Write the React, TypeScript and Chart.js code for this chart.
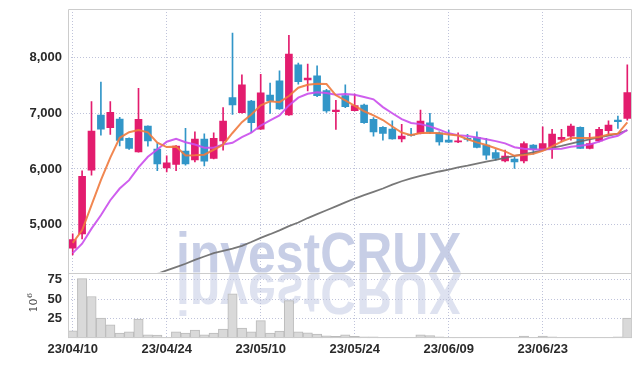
import React, { useEffect, useRef } from 'react';
import { Chart, registerables } from 'chart.js';

Chart.register(...registerables);

const dates = [
  '23/04/10', '23/04/11', '23/04/12', '23/04/13', '23/04/14', '23/04/17', '23/04/18', '23/04/19', '23/04/20', '23/04/21',
  '23/04/24', '23/04/25', '23/04/26', '23/04/27', '23/04/28', '23/05/02', '23/05/03', '23/05/04', '23/05/08', '23/05/09',
  '23/05/10', '23/05/11', '23/05/12', '23/05/15', '23/05/16', '23/05/17', '23/05/18', '23/05/19', '23/05/22', '23/05/23',
  '23/05/24', '23/05/25', '23/05/26', '23/05/30', '23/05/31', '23/06/01', '23/06/02', '23/06/05', '23/06/07', '23/06/08',
  '23/06/09', '23/06/12', '23/06/13', '23/06/14', '23/06/15', '23/06/16', '23/06/19', '23/06/20', '23/06/21', '23/06/22',
  '23/06/23', '23/06/26', '23/06/27', '23/06/28', '23/06/29', '23/06/30', '23/07/03', '23/07/04', '23/07/05', '23/07/06',
];

const tickDates = ['23/04/10', '23/04/24', '23/05/10', '23/05/24', '23/06/09', '23/06/23'];

const opens = [
  4578, 4837, 5977, 6968, 6739, 6896, 6548, 6307, 6770, 6356,
  6019, 6080, 6320, 6163, 6536, 6188, 6505, 7280, 7010, 7220,
  6716, 7328, 7580, 6968, 7868, 7598, 7670, 7406, 7028, 7316,
  7046, 7148, 6890, 6746, 6716, 6541, 6620, 6638, 6829, 6649,
  6518, 6487, 6548, 6566, 6427, 6293, 6145, 6176, 6145, 6427,
  6350, 6397, 6530, 6590, 6746, 6368, 6505, 6686, 6878, 6908,
];
const closes = [
  4735, 5869, 6680, 6716, 7017, 6512, 6368, 6890, 6505, 6091,
  6109, 6409, 6091, 6536, 6140, 6548, 6860, 7148, 7508, 6829,
  7364, 7220, 7076, 8061, 7568, 7629, 7316, 7040, 7058, 7118,
  7136, 6829, 6667, 6638, 6541, 6590, 6602, 6860, 6667, 6487,
  6482, 6505, 6530, 6386, 6248, 6188, 6230, 6127, 6458, 6350,
  6458, 6626, 6566, 6770, 6368, 6458, 6710, 6788, 6847, 7370,
];
const highs = [
  4837, 5965, 7208, 7557, 7208, 6926, 6560, 7449, 6775, 6458,
  6235, 6420, 6728, 6667, 6631, 6650, 7100, 8440, 7688, 7230,
  7700, 7539, 7760, 8396, 7899, 7881, 7850, 7431, 7232, 7508,
  7346, 7166, 6920, 6760, 6865, 6800, 6728, 7058, 6999, 6667,
  6698, 6649, 6620, 6667, 6548, 6350, 6338, 6230, 6487, 6440,
  6758, 6710, 6710, 6806, 6758, 6638, 6746, 6865, 6950, 7868,
];
const lows = [
  4459, 4747, 5887, 6608, 6620, 6415, 6350, 6300, 6409, 5972,
  5947, 5972, 6068, 6127, 6055, 6180, 6338, 6981, 7000, 6656,
  6710, 6999, 7070, 6960, 7521, 7400, 7298, 7017, 6710, 7100,
  7040, 6818, 6590, 6518, 6535, 6487, 6590, 6630, 6638, 6427,
  6476, 6470, 6500, 6380, 6170, 6158, 6127, 6008, 6109, 6266,
  6340, 6188, 6487, 6518, 6368, 6360, 6487, 6608, 6728, 6878,
];

const ma5 = [
  4675, 4900, 5350, 5800, 6203, 6559, 6659, 6701, 6658, 6473,
  6393, 6401, 6241, 6247, 6257, 6345, 6435, 6646, 6841, 6979,
  7142, 7214, 7199, 7310, 7458, 7511, 7530, 7523, 7322, 7232,
  7134, 7036, 6962, 6878, 6762, 6653, 6608, 6646, 6652, 6641,
  6620, 6600, 6534, 6478, 6430, 6371, 6316, 6236, 6250, 6271,
  6325, 6404, 6492, 6554, 6558, 6558, 6574, 6619, 6634, 6835,
];
const ma10 = [
  4490, 4660, 4930, 5170, 5440, 5650, 5800, 6030, 6220, 6350,
  6490, 6540, 6480, 6440, 6380, 6380, 6440, 6470, 6570, 6650,
  6780, 6870, 6960, 7140, 7280, 7350, 7375, 7365, 7330, 7345,
  7330, 7290, 7250, 7110, 7000, 6895, 6825, 6805, 6765, 6705,
  6640, 6605, 6590, 6565, 6535, 6500, 6460, 6390, 6365, 6350,
  6350, 6360, 6365, 6400, 6415, 6440, 6490, 6555, 6595, 6700,
];
const ma60 = [
  null, null, null, null, null, null, null, null, null, 4120,
  4180, 4240, 4300, 4370, 4430, 4490, 4530, 4570, 4620, 4690,
  4765, 4830, 4900, 4975, 5040, 5120, 5190, 5260, 5330, 5400,
  5470, 5530, 5590, 5650, 5720, 5780, 5830, 5875, 5915, 5955,
  5990, 6030, 6060, 6095, 6130, 6165, 6200, 6235, 6265, 6300,
  6340, 6380, 6415, 6455, 6495, 6530, 6565, 6600, 6635, 6695,
];

const volumes = [
  9.7, 76.3, 53.5, 26, 17.4, 6.7, 8.4, 24.7, 4.5, 4.1,
  1.5, 8.4, 6.7, 10.5, 4.5, 6.7, 11.8, 57, 13.1, 8.4,
  22.6, 6.7, 9.2, 48.3, 8.4, 7.1, 5.4, 3.2, 2.5, 4.5,
  2.5, 2, 2, 1.5, 1.5, 1.5, 1.2, 4.5, 3.5, 2,
  1.5, 1.5, 1.2, 1.2, 1, 1, 1, 1, 3, 1.2,
  3, 2, 1.5, 1.5, 1.5, 1.2, 1.2, 1.2, 2, 26,
];

const priceTicks = [5000, 6000, 7000, 8000];
const volumeTicks = [25, 50, 75];

const UP = '#e31c6e';
const DOWN = '#3296c8';
const GRID = '#bfc3da';
const FRAME = '#cccccc';
const FONT = { family: "'Liberation Sans', Arial, sans-serif", size: 13, weight: 'bold' };
const TICK_COLOR = '#2a2a2a';

const watermarkPlugin = {
  id: 'watermark',
  beforeDraw(chart: any) {
    const { ctx, chartArea } = chart;
    const ys = chart.scales.y;
    const ys2 = chart.scales.y2;
    const base = ys.bottom;
    const x0 = 176;
    ctx.save();
    ctx.font = "bold 58px 'Liberation Sans', Arial, sans-serif";
    ctx.textBaseline = 'alphabetic';
    ctx.textAlign = 'left';
    ctx.save();
    ctx.beginPath();
    ctx.rect(chartArea.left, ys.top, chartArea.right - chartArea.left, ys.bottom - ys.top);
    ctx.clip();
    ctx.translate(x0, base);
    ctx.scale(0.86, 1);
    ctx.fillStyle = 'rgba(185,194,224,0.8)';
    ctx.fillText('investCRUX', 0, 0);
    ctx.restore();
    ctx.save();
    ctx.beginPath();
    ctx.rect(chartArea.left, ys2.top, chartArea.right - chartArea.left, ys2.bottom - ys2.top);
    ctx.clip();
    ctx.translate(x0, base + 1);
    ctx.scale(0.86, -1);
    ctx.fillStyle = 'rgba(200,207,230,0.6)';
    ctx.fillText('investCRUX', 0, 0);
    ctx.restore();
    ctx.restore();
  },
};

const clipPlugin = {
  id: 'clipPanes',
  beforeDatasetDraw(chart: any, args: any) {
    const ds = chart.data.datasets[args.index];
    const sc = chart.scales[ds.yAxisID === 'y2' ? 'y2' : 'y'];
    const { ctx, chartArea } = chart;
    ctx.save();
    ctx.beginPath();
    ctx.rect(chartArea.left, sc.top, chartArea.right - chartArea.left, sc.bottom - sc.top);
    ctx.clip();
  },
  afterDatasetDraw(chart: any) {
    chart.ctx.restore();
  },
};

const framePlugin = {
  id: 'frame',
  afterDatasetsDraw(chart: any) {
    const { ctx, chartArea } = chart;
    const ys = chart.scales.y;
    const ys2 = chart.scales.y2;
    ctx.save();
    ctx.strokeStyle = FRAME;
    ctx.lineWidth = 1;
    const l = Math.round(chartArea.left) + 0.5;
    const r = Math.round(chartArea.right) - 0.5;
    const t = Math.round(ys.top) + 0.5;
    const m = Math.round(ys.bottom) + 0.5;
    const b = Math.round(ys2.bottom) - 0.5;
    ctx.beginPath();
    ctx.moveTo(l, t); ctx.lineTo(r, t);
    ctx.moveTo(l, m); ctx.lineTo(r, m);
    ctx.moveTo(l, b); ctx.lineTo(r, b);
    ctx.moveTo(l, t); ctx.lineTo(l, b);
    ctx.moveTo(r, t); ctx.lineTo(r, b);
    ctx.stroke();
    const cy = (ys2.top + ys2.bottom) / 2;
    ctx.translate(37, cy + 7);
    ctx.rotate(-Math.PI / 2);
    ctx.fillStyle = '#333';
    ctx.textBaseline = 'alphabetic';
    ctx.textAlign = 'left';
    ctx.font = "11px 'DejaVu Serif', serif";
    ctx.fillText('10', 0, 0);
    const w = ctx.measureText('10').width;
    ctx.font = "8px 'DejaVu Serif', serif";
    ctx.fillText('6', w + 0.5, -5);
    ctx.restore();
  },
};

const fitY = (s: any) => {
  s.width = 60;
  s.paddingTop = 0;
  s.paddingBottom = 0;
};

export default function App() {
  const ref = useRef<HTMLCanvasElement | null>(null);

  useEffect(() => {
    if (!ref.current) return;
    const colors = closes.map((c, i) => (c >= opens[i] ? UP : DOWN));
    const chart = new Chart(ref.current, {
      type: 'bar',
      data: {
        labels: dates,
        datasets: [
          {
            type: 'line',
            label: 'MA5',
            data: ma5,
            yAxisID: 'y',
            borderColor: 'rgba(240,122,62,0.9)',
            borderWidth: 2,
            pointRadius: 0,
            tension: 0,
          },
          {
            type: 'line',
            label: 'MA10',
            data: ma10,
            yAxisID: 'y',
            borderColor: 'rgba(202,78,236,0.9)',
            borderWidth: 2,
            pointRadius: 0,
            tension: 0,
          },
          {
            type: 'line',
            label: 'MA60',
            data: ma60,
            yAxisID: 'y',
            borderColor: 'rgba(105,105,105,0.9)',
            borderWidth: 1.8,
            pointRadius: 0,
            tension: 0,
          },
          {
            type: 'bar',
            label: 'body',
            data: opens.map((o, i) => [o, closes[i]]),
            yAxisID: 'y',
            backgroundColor: colors,
            barThickness: 7,
            grouped: false,
          },
          {
            type: 'bar',
            label: 'wick',
            data: lows.map((l, i) => [l, highs[i]]),
            yAxisID: 'y',
            backgroundColor: colors,
            barThickness: 1,
            grouped: false,
          },
          {
            type: 'bar',
            label: 'volume',
            data: volumes,
            yAxisID: 'y2',
            backgroundColor: '#d9d9d9',
            borderColor: '#bababa',
            borderWidth: 1,
            categoryPercentage: 1,
            barPercentage: 1,
            grouped: false,
          },
        ] as any,
      },
      options: {
        responsive: false,
        animation: false,
        layout: { padding: { left: 8, right: 10, top: 9, bottom: 6 } },
        plugins: { legend: { display: false }, tooltip: { enabled: false } },
        scales: {
          x: {
            type: 'category',
            offset: true,
            grid: {
              offset: false,
              drawTicks: false,
              color: (c: any) => (tickDates.includes(dates[c.index]) ? GRID : 'rgba(0,0,0,0)'),
            },
            border: { display: false, dash: [1, 2] },
            ticks: {
              autoSkip: false,
              maxRotation: 0,
              padding: 3,
              font: FONT,
              color: TICK_COLOR,
              callback: (_v: any, i: number) => (tickDates.includes(dates[i]) ? dates[i] : ''),
            },
          },
          y2: {
            type: 'linear',
            position: 'left',
            stack: 'panes',
            stackWeight: 65.5,
            min: 0,
            max: 84,
            afterBuildTicks: (s: any) => {
              s.ticks = volumeTicks.map((v) => ({ value: v }));
            },
            afterFit: fitY,
            grid: { drawTicks: false, color: GRID },
            border: { display: false, dash: [1, 2] },
            ticks: { padding: 6, font: FONT, color: TICK_COLOR, autoSkip: false },
          },
          y: {
            type: 'linear',
            position: 'left',
            stack: 'panes',
            stackWeight: 262.5,
            min: 4141,
            max: 8870,
            afterBuildTicks: (s: any) => {
              s.ticks = priceTicks.map((v) => ({ value: v }));
            },
            afterFit: fitY,
            grid: { drawTicks: false, color: GRID },
            border: { display: false, dash: [1, 2] },
            ticks: {
              padding: 6,
              font: FONT,
              color: TICK_COLOR,
              autoSkip: false,
              callback: (v: any) => Number(v).toLocaleString('en-US'),
            },
          },
        } as any,
      },
      plugins: [watermarkPlugin, clipPlugin, framePlugin],
    });
    return () => chart.destroy();
  }, []);

  return (
    <div style={{ position: 'fixed', left: 0, top: 0, width: 642, height: 366, background: '#fff' }}>
      <canvas ref={ref} width={642} height={366} style={{ display: 'block' }} />
    </div>
  );
}
